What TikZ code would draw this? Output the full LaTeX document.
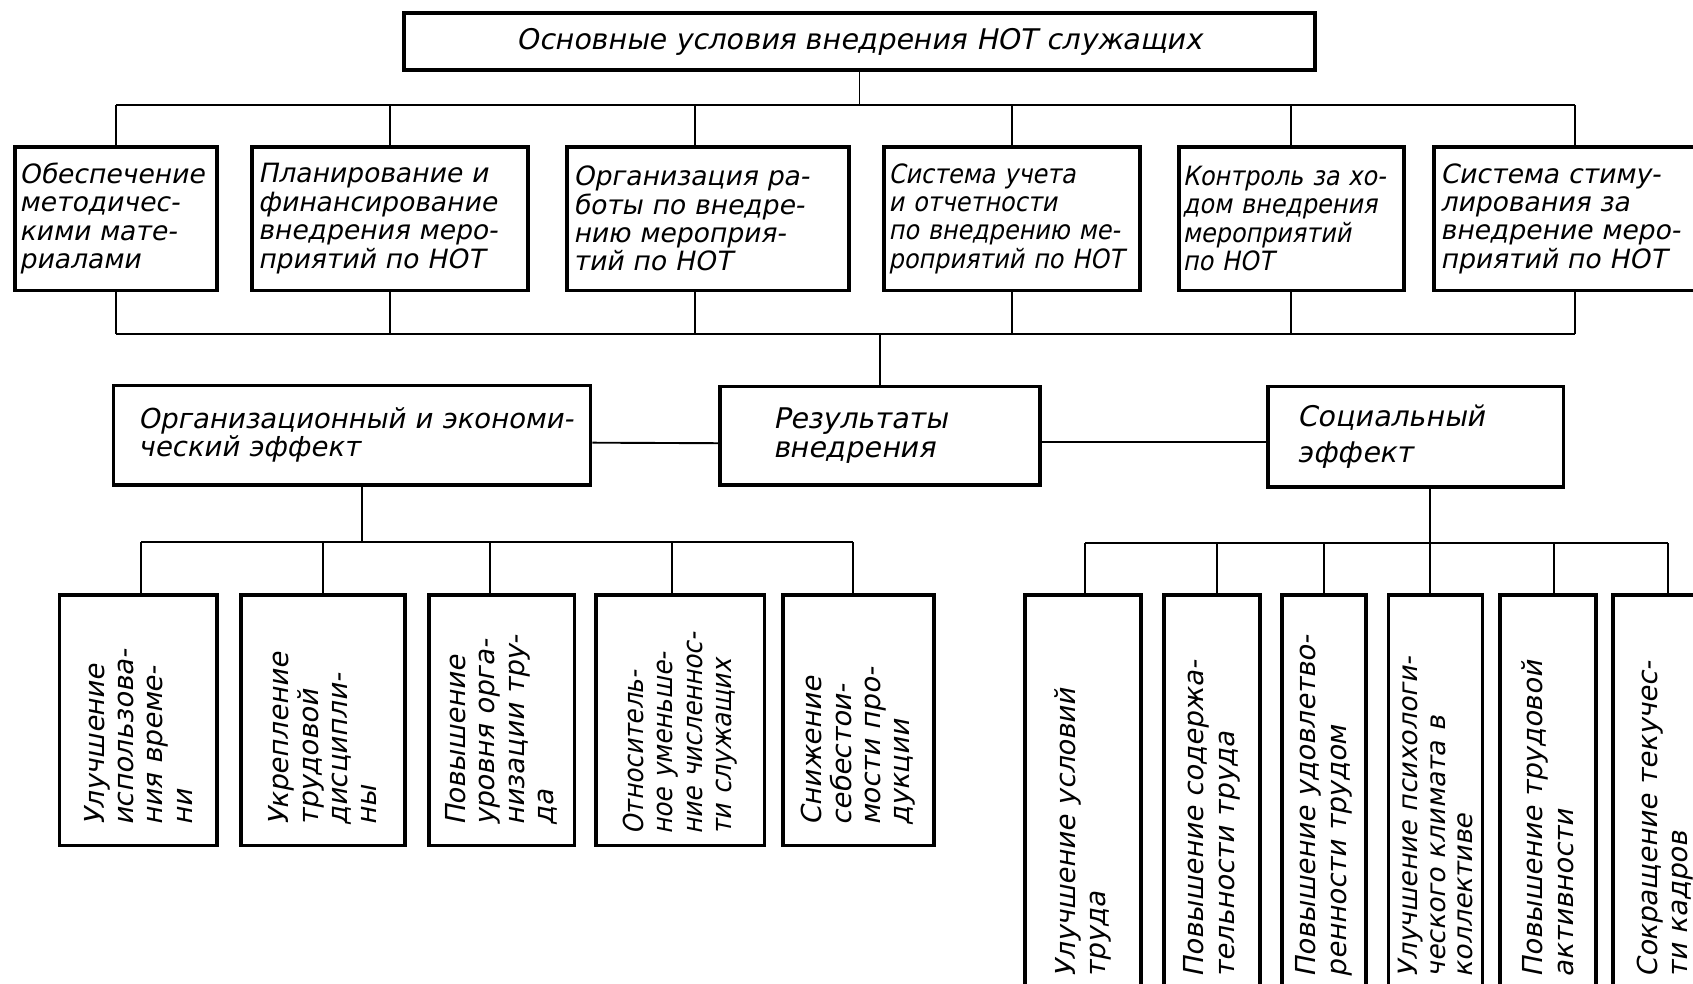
\documentclass[tikz,border=0pt]{standalone}
\usepackage{fontspec}
\newfontfamily\gost{DejaVu Sans}[FakeSlant=0.2]
\newfontfamily\gostn{DejaVu Sans}[FakeSlant=0.2,FakeStretch=0.9]
\newcommand\hb[1]{\mbox{#1}}
\tikzset{
  box/.style={draw, line width=2pt, inner ysep=0pt, align=left},
  conn/.style={line width=1pt},
  rtwo/.style={box, inner xsep=0.12cm, minimum height=2.66cm,
    font={\gost\fontsize{14}{15}\selectfont}},
  rtwon/.style={rtwo, font={\gostn\fontsize{14}{15}\selectfont}},
  vleft/.style={box, rotate=90, inner xsep=0.36cm, text width=3.92cm,
    font={\gost\fontsize{14.5}{15.5}\selectfont}},
  vright/.style={box, rotate=90, inner xsep=0.5cm, text width=6.58cm,
    font={\gost\fontsize{14.5}{16}\selectfont}},
}
\begin{document}
\begin{tikzpicture}[x=0.02cm,y=-0.02cm]
\useasboundingbox (0,0) rectangle (1568,911);
\clip (0,0) rectangle (1568,911);
\fill[white] (0,0) rectangle (1568,911);

% title
\node[box, inner xsep=0pt, minimum width=16.88cm, minimum height=1.06cm,
  font={\gost\fontsize{15}{15}\selectfont}] (top) at (796,38.5)
  {Основные условия внедрения НОТ служащих};

% second row
\node[rtwo, inner xsep=0.08cm, text width=3.58cm] (r1) at (107.5,202.5)
  {\hb{Обеспечение}\\\hb{методичес-}\\\hb{кими мате-}\\\hb{риалами}};
\node[rtwo, text width=4.88cm] (r2) at (361,202.5)
  {\hb{Планирование и}\\\hb{финансирование}\\\hb{внедрения меро-}\\\hb{приятий по НОТ}};
\node[rtwo, text width=4.98cm] (r3) at (655.5,202.5)
  {\hb{Организация ра-}\\\hb{боты по внедре-}\\\hb{нию мероприя-}\\\hb{тий по НОТ}};
\node[rtwon, inner xsep=0.08cm, text width=4.58cm] (r4) at (937.5,202.5)
  {\hb{Система учета}\\\hb{и отчетности}\\\hb{по внедрению ме-}\\\hb{роприятий по НОТ}};
\node[rtwon, inner xsep=0.07cm, text width=4.02cm] (r5) at (1196,202.5)
  {\hb{Контроль за хо-}\\\hb{дом внедрения}\\\hb{мероприятий}\\\hb{по НОТ}};
\node[rtwo, inner xsep=0.12cm, text width=5.0cm] (r6) at (1459,202.5)
  {\hb{Система стиму-}\\\hb{лирования за}\\\hb{внедрение меро-}\\\hb{приятий по НОТ}};

% middle row
\node[box, inner xsep=0.46cm, text width=7.92cm, minimum height=1.84cm,
  font={\gost\fontsize{14.5}{15}\selectfont}] (org) at (326,403)
  {\hb{Организационный и экономи-}\\\hb{ческий эффект}};
\node[box, inner xsep=0.98cm, text width=3.96cm, minimum height=1.82cm,
  font={\gost\fontsize{15}{15.5}\selectfont}] (res) at (815,403.5)
  {\hb{Результаты}\\\hb{внедрения}};
\node[box, inner xsep=0.56cm, text width=4.36cm, minimum height=1.86cm,
  font={\gost\fontsize{15}{19}\selectfont}] (soc) at (1311,404.5)
  {\hb{Социальный}\\\hb{эффект}};

% left vertical boxes
\node[vleft, minimum height=2.92cm] (b1) at (128,667)
  {\hb{Улучшение}\\\hb{использова-}\\\hb{ния време-}\\\hb{ни}};
\node[vleft, minimum height=3.04cm] (b2) at (299,667)
  {\hb{Укрепление}\\\hb{трудовой}\\\hb{дисципли-}\\\hb{ны}};
\node[vleft, minimum height=2.7cm] (b3) at (464.5,667)
  {\hb{Повышение}\\\hb{уровня орга-}\\\hb{низации тру-}\\\hb{да}};
\node[vleft, minimum height=3.12cm, inner xsep=0.2cm, text width=4.24cm,
  font={\gostn\fontsize{14.5}{15.5}\selectfont}] (b4) at (630,667)
  {\hb{Относитель-}\\\hb{ное уменьше-}\\\hb{ние численнос-}\\\hb{ти служащих}};
\node[vleft, minimum height=2.8cm] (b5) at (795,667)
  {\hb{Снижение}\\\hb{себестои-}\\\hb{мости про-}\\\hb{дукции}};

% right vertical boxes
\node[vright, minimum height=2.16cm] (s1) at (1003,740.5)
  {\hb{Улучшение условий}\\\hb{труда}};
\node[vright, minimum height=1.78cm] (s2) at (1122.5,740.5)
  {\hb{Повышение содержа-}\\\hb{тельности труда}};
\node[vright, minimum height=1.56cm] (s3) at (1226,740.5)
  {\hb{Повышение удовлетво-}\\\hb{ренности трудом}};
\node[vright, minimum height=1.74cm, font={\gost\fontsize{14}{14.5}\selectfont}] (s4) at (1329.5,740.5)
  {\hb{Улучшение психологи-}\\\hb{ческого климата в}\\\hb{коллективе}};
\node[vright, minimum height=1.78cm] (s5) at (1433.5,740.5)
  {\hb{Повышение трудовой}\\\hb{активности}};
\node[vright, minimum height=1.92cm] (s6) at (1542,740.5)
  {\hb{Сокращение текучес-}\\\hb{ти кадров}};

% bus coordinates
\coordinate (busA) at (0,97);
\coordinate (busB) at (0,309);
\coordinate (busC) at (0,502);
\coordinate (busD) at (0,503);

% connectors top
\draw[conn] (top.south) -- (top.south |- busA);
\draw[conn] (r1.north |- busA) -- (r6.north |- busA);
\foreach \n in {r1,r2,r4,r5,r6} {
  \draw[conn] (\n.north) -- (\n.north |- busA);
  \draw[conn] (\n.south) -- (\n.south |- busB);
}
\draw[conn] ([xshift=-0.23cm]r3.north) -- ([xshift=-0.23cm]r3.north |- busA);
\draw[conn] ([xshift=-0.23cm]r3.south) -- ([xshift=-0.23cm]r3.south |- busB);
\draw[conn] (r1.south |- busB) -- (r6.south |- busB);
\draw[conn] (res.north |- busB) -- (res.north);

% middle connectors
\draw[conn] ([yshift=-0.14cm]org.east) -- ([yshift=-0.14cm]res.west);
\draw[conn] ([yshift=-0.12cm]res.east) -- ([yshift=-0.12cm]res.east -| soc.west);

% left group
\draw[conn] ([xshift=0.18cm]org.south) -- ([xshift=0.18cm]org.south |- busC);
\draw[conn] ([xshift=0.06cm]b1.east |- busC) -- ([xshift=-0.1cm]b5.east |- busC);
\draw[conn] ([xshift=0.06cm]b1.east) -- ([xshift=0.06cm]b1.east |- busC);
\draw[conn] (b2.east) -- (b2.east |- busC);
\draw[conn] ([xshift=-0.21cm]b3.east) -- ([xshift=-0.21cm]b3.east |- busC);
\draw[conn] ([xshift=-0.16cm]b4.east) -- ([xshift=-0.16cm]b4.east |- busC);
\draw[conn] ([xshift=-0.1cm]b5.east) -- ([xshift=-0.1cm]b5.east |- busC);

% right group
\draw[conn] ([xshift=0.26cm]soc.south) -- ([xshift=0.26cm]soc.south |- busD);
\draw[conn] ([xshift=0.04cm]s1.east |- busD) -- ([xshift=0.06cm]s6.east |- busD);
\draw[conn] ([xshift=0.04cm]s1.east) -- ([xshift=0.04cm]s1.east |- busD);
\draw[conn] ([xshift=0.09cm]s2.east) -- ([xshift=0.09cm]s2.east |- busD);
\draw[conn] (s3.east) -- (s3.east |- busD);
\draw[conn] ([xshift=-0.11cm]s4.east) -- ([xshift=-0.11cm]s4.east |- busD);
\draw[conn] ([xshift=0.11cm]s5.east) -- ([xshift=0.11cm]s5.east |- busD);
\draw[conn] ([xshift=0.06cm]s6.east) -- ([xshift=0.06cm]s6.east |- busD);
\end{tikzpicture}
\end{document}
